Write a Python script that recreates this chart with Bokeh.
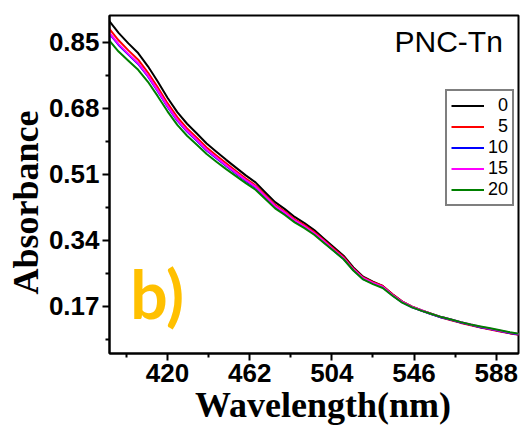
from bokeh.plotting import figure
from bokeh.models import FixedTicker, Legend, LegendItem, Label, Range1d
from bokeh.embed import file_html
from bokeh.resources import INLINE

# ---- data ----
wavelength = list(range(390, 605, 5))

abs_0 = [0.906, 0.874, 0.847, 0.822, 0.788, 0.749, 0.707, 0.670, 0.640, 0.615,
         0.589, 0.568, 0.547, 0.527, 0.507, 0.489, 0.463, 0.438, 0.420, 0.400,
         0.384, 0.366, 0.344, 0.322, 0.300, 0.270, 0.246, 0.233, 0.222, 0.201,
         0.182, 0.169, 0.159, 0.150, 0.142, 0.135, 0.128, 0.122, 0.116, 0.111,
         0.106, 0.101, 0.097]
abs_5 = [0.886, 0.855, 0.829, 0.805, 0.772, 0.734, 0.693, 0.657, 0.628, 0.604,
         0.579, 0.558, 0.538, 0.518, 0.499, 0.481, 0.456, 0.431, 0.414, 0.394,
         0.379, 0.361, 0.340, 0.318, 0.297, 0.267, 0.244, 0.232, 0.222, 0.201,
         0.182, 0.169, 0.159, 0.150, 0.141, 0.134, 0.127, 0.121, 0.115, 0.110,
         0.105, 0.100, 0.096]
abs_10 = [0.874, 0.843, 0.818, 0.794, 0.762, 0.724, 0.684, 0.648, 0.620, 0.596,
          0.571, 0.551, 0.531, 0.512, 0.493, 0.476, 0.451, 0.426, 0.409, 0.389,
          0.374, 0.356, 0.335, 0.313, 0.292, 0.263, 0.240, 0.229, 0.219, 0.198,
          0.180, 0.167, 0.158, 0.149, 0.141, 0.135, 0.128, 0.122, 0.116, 0.111,
          0.106, 0.101, 0.097]
abs_15 = [0.876, 0.845, 0.820, 0.796, 0.764, 0.726, 0.686, 0.650, 0.622, 0.598,
          0.573, 0.553, 0.533, 0.514, 0.495, 0.478, 0.453, 0.428, 0.411, 0.391,
          0.376, 0.358, 0.337, 0.315, 0.294, 0.265, 0.242, 0.230, 0.220, 0.199,
          0.181, 0.168, 0.159, 0.150, 0.142, 0.136, 0.129, 0.123, 0.117, 0.112,
          0.107, 0.102, 0.098]
abs_20 = [0.856, 0.826, 0.802, 0.779, 0.748, 0.711, 0.672, 0.637, 0.609, 0.586,
          0.562, 0.542, 0.523, 0.505, 0.487, 0.470, 0.446, 0.422, 0.405, 0.386,
          0.371, 0.354, 0.333, 0.312, 0.291, 0.262, 0.239, 0.227, 0.217, 0.197,
          0.179, 0.167, 0.158, 0.150, 0.142, 0.136, 0.129, 0.123, 0.118, 0.113,
          0.108, 0.103, 0.099]

series_names = ["0", "5", "10", "15", "20"]
series_values = [abs_0, abs_5, abs_10, abs_15, abs_20]
series_colors = ["#000000", "#FF0000", "#0000FF", "#FF00FF", "#008000"]

x_ticks = [420, 462, 504, 546, 588]
x_minor = [399, 441, 483, 525, 567]
y_ticks = [0.17, 0.34, 0.51, 0.68, 0.85]
y_minor = [0.085, 0.255, 0.425, 0.595, 0.765]
y_tick_labels = ["0.17", "0.34", "0.51", "0.68", "0.85"]

# ---- figure ----
p = figure(width=524, height=432, output_backend="svg", toolbar_location=None,
           x_range=Range1d(390.36, 599.4), y_range=Range1d(0.0482, 0.9188),
           min_border_left=109, min_border_right=6, min_border_top=15,
           min_border_bottom=79)
p.xgrid.visible = False
p.ygrid.visible = False
p.outline_line_color = "black"
p.outline_line_width = 2
p.background_fill_color = "white"
p.border_fill_color = "white"

renderers = []
for name, vals, col in zip(series_names, series_values, series_colors):
    r = p.line(wavelength, vals, line_color=col, line_width=2, line_join="round")
    renderers.append(r)

for ax in (p.xaxis[0], p.yaxis[0]):
    ax.axis_line_width = 2
    ax.axis_line_color = "black"
    ax.major_tick_line_width = 2
    ax.minor_tick_line_width = 2
    ax.major_tick_out = 7
    ax.major_tick_in = 0
    ax.minor_tick_out = 4
    ax.minor_tick_in = 0
    ax.major_label_text_font = "Liberation Sans"
    ax.major_label_text_font_style = "bold"
    ax.major_label_text_font_size = "26px"
    ax.major_label_text_color = "black"
    ax.axis_label_text_font = "Liberation Serif"
    ax.axis_label_text_font_style = "bold"
    ax.axis_label_text_font_size = "36px"
    ax.axis_label_text_color = "black"
    ax.major_label_standoff = 3

p.xaxis.ticker = FixedTicker(ticks=x_ticks, minor_ticks=x_minor)
p.yaxis.ticker = FixedTicker(ticks=y_ticks, minor_ticks=y_minor)
p.yaxis.major_label_overrides = {t: s for t, s in zip(y_ticks, y_tick_labels)}
p.xaxis.axis_label = "\u2007Wavelength(nm)"
p.yaxis.axis_label = "Absorbance\u2007\u2007"
p.xaxis.axis_label_standoff = 0
p.yaxis.axis_label_standoff = 0

legend_labels = ["\u2007" + n if len(n) == 1 else n for n in series_names]
legend = Legend(items=[LegendItem(label=l, renderers=[r]) for l, r in zip(legend_labels, renderers)],
                location=(336, 147), glyph_width=33, glyph_height=21, label_height=21,
                spacing=0, padding=4, margin=0, label_standoff=4,
                label_text_font="Liberation Sans", label_text_font_size="18px",
                label_text_color="black",
                border_line_color="black", border_line_width=2,
                background_fill_color="white", background_fill_alpha=1)
p.add_layout(legend)

p.add_layout(Label(x=591.4, y=0.852, text="PNC-Tn", text_align="right",
                   text_baseline="alphabetic", text_font="Liberation Sans",
                   text_font_size="30px", text_color="black"))
p.add_layout(Label(x=401, y=0.204, text="b)", text_align="left",
                   text_baseline="alphabetic", text_font="Lato",
                   text_font_style="bold", text_font_size="66px",
                   text_color="#FFC000"))

open("out.html", "w").write(file_html(p, INLINE))
